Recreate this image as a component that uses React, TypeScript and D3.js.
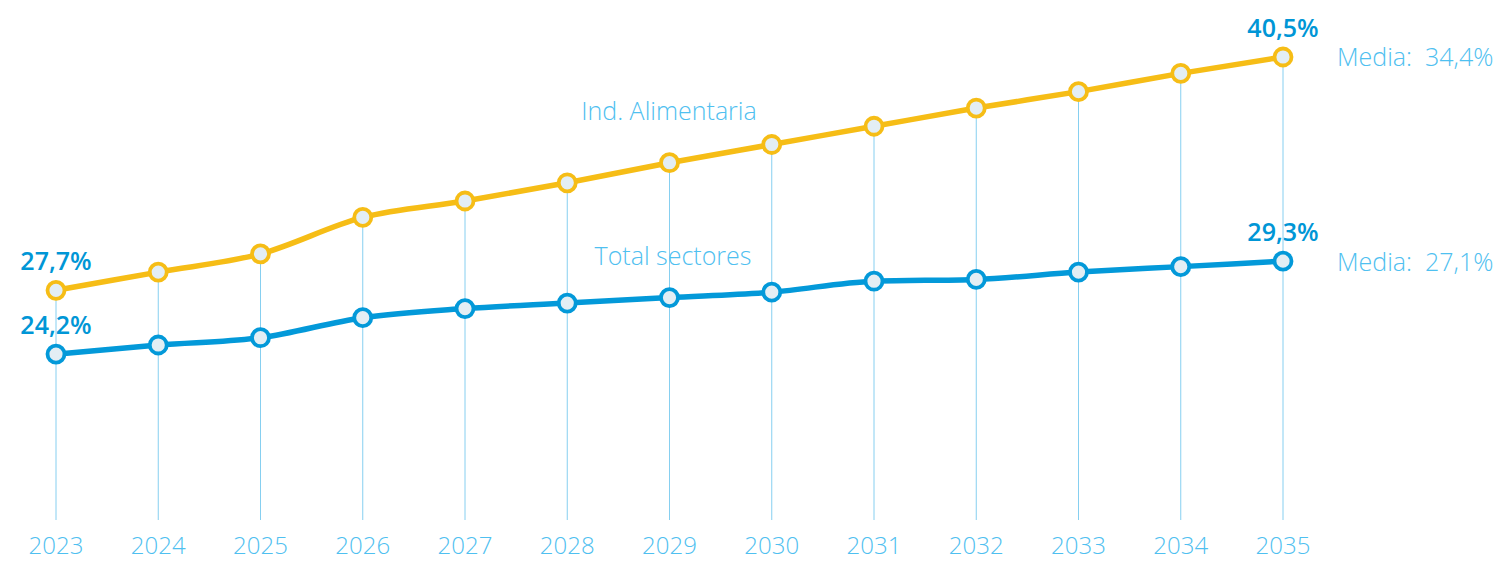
import React from 'react';
import * as d3 from 'd3';

const years = ['2023', '2024', '2025', '2026', '2027', '2028', '2029', '2030', '2031', '2032', '2033', '2034', '2035'];
const alimentaria = [27.7, 28.7, 29.7, 31.7, 32.6, 33.6, 34.7, 35.7, 36.7, 37.7, 38.6, 39.6, 40.5];
const totalSectores = [24.2, 24.7, 25.1, 26.2, 26.7, 27.0, 27.3, 27.6, 28.2, 28.3, 28.7, 29.0, 29.3];
const seriesNames = ['Ind. Alimentaria', 'Total sectores'];
const mediaLabels = ['Media: 34,4%', 'Media: 27,1%'];

const W = 1499;
const H = 561;
const FONT = '"Open Sans", "Noto Sans", sans-serif';
const YELLOW = '#f6bd16';
const BLUE = '#0399d9';
const LABEL = '#0096d6';
const LIGHT = '#4fc0f0';
const GRID = '#86cff0';
const DOT_FILL = '#e3eef4';

const fmt = (v: number) => v.toFixed(1).replace('.', ',') + '%';

const App = () => {
  const x = d3.scalePoint<string>().domain(years).range([56, 1283]);
  const y = d3.scaleLinear().domain([15.1, 40.5]).range([520, 57]);

  const line = d3.line<number>()
    .x((_, i) => x(years[i])!)
    .y(d => y(d))
    .curve(d3.curveMonotoneX);

  const last = years.length - 1;
  const valueStyle = { fontSize: 25, fontWeight: 600, fill: LABEL };
  const lightStyle = { fontSize: 25, fontWeight: 300, fill: LIGHT };

  return (
    <svg width={W} height={H} style={{ position: 'absolute', left: 0, top: 0, fontFamily: FONT }}>
      {/* vertical guides */}
      {years.map((yr, i) => (
        <line key={yr} x1={x(yr)} x2={x(yr)} y1={y(alimentaria[i])} y2={520} stroke={GRID} strokeWidth={1} />
      ))}

      {/* series names */}
      <text x={669} y={120} textAnchor="middle" {...lightStyle}>{seriesNames[0]}</text>
      <text x={673} y={265} textAnchor="middle" {...lightStyle}>{seriesNames[1]}</text>

      {/* lines */}
      <path d={line(alimentaria)!} fill="none" stroke={YELLOW} strokeWidth={5.5} />
      <path d={line(totalSectores)!} fill="none" stroke={BLUE} strokeWidth={5.5} />

      {/* markers */}
      {alimentaria.map((v, i) => (
        <circle key={'a' + i} cx={x(years[i])} cy={y(v)} r={8.5} fill={DOT_FILL} stroke={YELLOW} strokeWidth={3.8} />
      ))}
      {totalSectores.map((v, i) => (
        <circle key={'t' + i} cx={x(years[i])} cy={y(v)} r={8.5} fill={DOT_FILL} stroke={BLUE} strokeWidth={3.8} />
      ))}

      {/* value labels */}
      <text x={x(years[0])} y={y(alimentaria[0]) - 20} textAnchor="middle" {...valueStyle}>{fmt(alimentaria[0])}</text>
      <text x={x(years[0])} y={y(totalSectores[0]) - 20} textAnchor="middle" {...valueStyle}>{fmt(totalSectores[0])}</text>
      <text x={x(years[last])} y={y(alimentaria[last]) - 20} textAnchor="middle" {...valueStyle}>{fmt(alimentaria[last])}</text>
      <text x={x(years[last])} y={y(totalSectores[last]) - 20} textAnchor="middle" {...valueStyle}>{fmt(totalSectores[last])}</text>

      {/* media labels */}
      <text x={1337} y={y(alimentaria[last]) + 9} {...lightStyle}>{mediaLabels[0].replace(': ', ':\u00a0\u00a0')}</text>
      <text x={1337} y={y(totalSectores[last]) + 10} {...lightStyle}>{mediaLabels[1].replace(': ', ':\u00a0\u00a0')}</text>

      {/* year axis */}
      {years.map(yr => (
        <text key={'y' + yr} x={x(yr)} y={554} textAnchor="middle" {...lightStyle} fontSize={24}>{yr}</text>
      ))}
    </svg>
  );
};

export default App;
